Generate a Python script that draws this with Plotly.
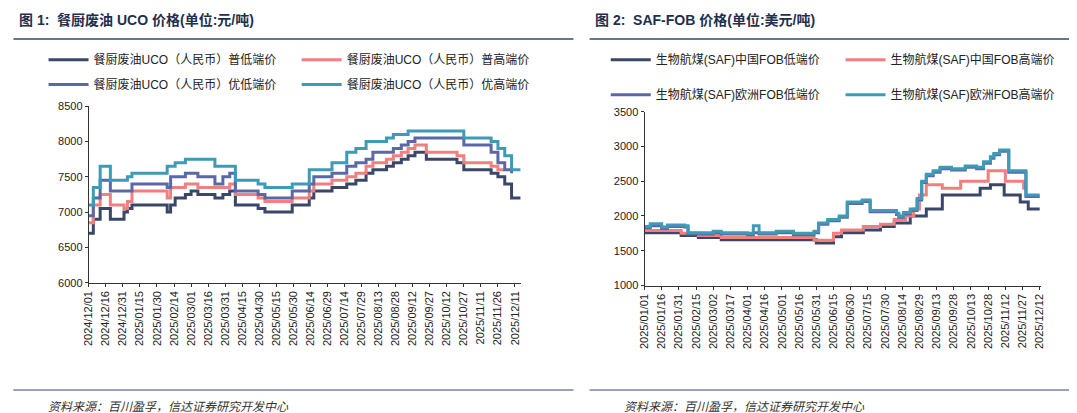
import pandas as pd
import plotly.graph_objects as go

# chart 1: UCO, change points (days since 2024-12-01)
uco_days = [0, 4, 10, 17, 19, 31, 34, 38, 69, 72, 76, 85, 90, 96, 111, 118, 124, 129, 149, 155,
            179, 194, 198, 214, 227, 235, 244, 250, 262, 268, 275, 281, 287, 297, 324, 330, 354,
            360, 366, 372, 380]
uco_low = [6700, 6900, 7050, 7050, 6900, 7000, 7050, 7100, 7000, 7100, 7200, 7250, 7300, 7250, 7200,
           7250, 7300, 7100, 7050, 7000, 7100, 7200, 7300, 7350, 7400, 7450, 7550, 7600, 7650, 7700,
           7750, 7800, 7850, 7750, 7700, 7600, 7550, 7500, 7400, 7200, 7200]
uco_high = [6850, 7100, 7250, 7250, 7100, 7050, 7150, 7300, 7200, 7350, 7350, 7400, 7400, 7350, 7350,
            7350, 7400, 7250, 7200, 7150, 7200, 7300, 7400, 7450, 7500, 7550, 7650, 7700, 7750, 7800,
            7850, 7900, 7950, 7850, 7800, 7700, 7650, 7600, 7600, None, None]
uco_pre_low = [6950, 7200, 7450, 7450, 7300, 7300, 7300, 7400, 7350, 7500, 7500, 7550, 7550, 7500, 7400,
               7500, 7550, 7300, 7250, 7200, 7300, 7400, 7500, 7550, 7650, 7700, 7750, 7850, 7850, 7900,
               7950, 8000, 8050, 8050, 8050, 7950, 7850, 7700, 7600, 7550, None]
uco_pre_high = [7100, 7350, 7650, 7650, 7450, 7450, 7500, 7550, 7650, 7650, 7700, 7750, 7750, 7750, 7650,
                7650, 7650, 7450, 7400, 7350, 7400, 7600, 7600, 7700, 7850, 7900, 8000, 8000, 8050, 8100,
                8100, 8150, 8150, 8150, 8150, 8050, 8000, 7900, 7800, 7600, 7600]

# chart 2: SAF FOB (days since 2025-01-01)
cn_low_days = [0, 32, 47, 67, 150, 165, 172, 191, 206, 218, 232, 246, 260, 293, 302, 314, 328, 335, 345]
cn_low = [1760, 1720, 1690, 1660, 1610, 1700, 1760, 1800, 1850, 1900, 2000, 2100, 2300, 2400, 2450,
          2300, 2200, 2100, 2100]
cn_high_days = [0, 32, 47, 67, 148, 165, 172, 191, 206, 218, 228, 235, 240, 246, 260, 276, 300, 315, 331, 334]
cn_high = [1790, 1750, 1720, 1690, 1650, 1750, 1800, 1850, 1880, 1950, 2000, 2100, 2300, 2450, 2400,
           2500, 2650, 2500, 2400, 2400]
eu_days = [0, 5, 15, 20, 35, 38, 60, 67, 90, 95, 100, 115, 130, 148, 152, 160, 170, 177, 190, 197,
           220, 222, 226, 232, 238, 242, 246, 252, 258, 268, 280, 290, 296, 302, 305, 310, 318, 330,
           333, 345]
eu_high = [1850, 1890, 1840, 1870, 1860, 1760, 1780, 1760, 1750, 1860, 1760, 1780, 1750, 1780, 1900,
           1950, 2000, 2200, 2230, 2080, 2040, 2000, 2050, 2100, 2250, 2500, 2600, 2650, 2700, 2680,
           2720, 2700, 2780, 2850, 2900, 2950, 2650, 2650, 2300, 2300]
eu_low = [1830, 1860, 1820, 1850, 1840, 1740, 1760, 1740, 1730, 1760, 1740, 1760, 1730, 1760, 1880,
          1930, 1980, 2180, 2210, 2060, 2020, 1980, 2030, 2080, 2230, 2480, 2580, 2630, 2680, 2660,
          2700, 2680, 2760, 2830, 2880, 2930, 2630, 2630, 2280, 2280]

NAVY, PINK, PURPLE, TEAL = "#3b4768", "#f27f7f", "#5b68a6", "#3d9bb8"
FONT = "Liberation Sans, Noto Sans CJK SC"


def to_dates(start, days):
    return pd.Timestamp(start) + pd.to_timedelta(days, unit="D")


fig = go.Figure()
# each entry gets its own legend box so the 2x2 layout is exact
legend_pos = {}
d1 = to_dates("2024-12-01", uco_days)
series1 = [("餐厨废油UCO（人民币）普低端价", uco_low, NAVY),
           ("餐厨废油UCO（人民币）普高端价", uco_high, PINK),
           ("餐厨废油UCO（人民币）优低端价", uco_pre_low, PURPLE),
           ("餐厨废油UCO（人民币）优高端价", uco_pre_high, TEAL)]
for i, (name, vals, col) in enumerate(series1):
    lg = "legend" if i == 0 else f"legend{i + 1}"
    legend_pos[lg] = (0.033 + 0.235 * (i % 2), 0.875 - 0.06 * (i // 2))
    fig.add_trace(go.Scatter(x=d1, y=vals, name=name, mode="lines", line_shape="hv",
                             line=dict(color=col, width=3), legend=lg))

series2 = [("生物航煤(SAF)中国FOB低端价", cn_low_days, cn_low, NAVY),
           ("生物航煤(SAF)中国FOB高端价", cn_high_days, cn_high, PINK),
           ("生物航煤(SAF)欧洲FOB低端价", eu_days, eu_low, PURPLE),
           ("生物航煤(SAF)欧洲FOB高端价", eu_days, eu_high, TEAL)]
for i, (name, days, vals, col) in enumerate(series2):
    lg = f"legend{i + 5}"
    legend_pos[lg] = (0.555 + 0.218 * (i % 2), 0.875 - 0.085 * (i // 2))
    fig.add_trace(go.Scatter(x=to_dates("2025-01-01", days), y=vals, name=name, mode="lines",
                             line_shape="hv", line=dict(color=col, width=3),
                             xaxis="x2", yaxis="y2", legend=lg))

for lg, (lx, ly) in legend_pos.items():
    fig.update_layout({lg: dict(x=lx, y=ly, xanchor="left", yanchor="middle", font=dict(size=12),
                                itemwidth=40, bgcolor="rgba(0,0,0,0)")})

axis_common = dict(showgrid=False, zeroline=False, showline=True, linecolor="#333", linewidth=1,
                   ticks="outside", ticklen=3, tickcolor="#333", tickfont=dict(size=11, color="#222"),
                   automargin=False)
DAY = 86400000
fig.update_layout(
    width=1077, height=413, margin=dict(l=0, r=0, t=0, b=0),
    paper_bgcolor="white", plot_bgcolor="white", font=dict(family=FONT, color="#222"),
    xaxis=dict(domain=[0.075, 0.476], range=["2024-12-01", "2025-12-16"], tickformat="%Y/%m/%d",
               tick0="2024-12-01", dtick=15 * DAY, tickangle=-90, anchor="y", **axis_common),
    yaxis=dict(domain=[0.335, 0.762], range=[6000, 8500], dtick=500, anchor="x", **axis_common),
    xaxis2=dict(domain=[0.591, 0.959], range=["2025-01-01", "2025-12-13"], tickformat="%Y/%m/%d",
                tick0="2025-01-01", dtick=15 * DAY, tickangle=-90, anchor="y2", **axis_common),
    yaxis2=dict(domain=[0.328, 0.749], range=[1000, 3500], dtick=500, anchor="x2", **axis_common),
    showlegend=True,
)

for x0, x1, title in [(0.005, 0.525, "<b>图 1:  餐厨废油 UCO 价格(单位:元/吨)</b>"),
                      (0.54, 0.995, "<b>图 2:  SAF-FOB 价格(单位:美元/吨)</b>")]:
    fig.add_annotation(x=x0 + 0.003, y=0.995, xref="paper", yref="paper", text=title, showarrow=False,
                       xanchor="left", yanchor="top", font=dict(size=14, color="#1f2f4f"))
    fig.add_shape(type="line", x0=x0, x1=x1, y0=0.925, y1=0.925, xref="paper", yref="paper",
                  line=dict(color="#2f4a7a", width=1.5))
    fig.add_shape(type="line", x0=x0, x1=x1, y0=0.075, y1=0.075, xref="paper", yref="paper",
                  line=dict(color="#2f4a7a", width=1))
    fig.add_annotation(x=x0 + 0.03, y=0.055, xref="paper", yref="paper",
                       text="<i>资料来源：百川盈孚，信达证券研究开发中心</i>", showarrow=False,
                       xanchor="left", yanchor="top", font=dict(size=12, color="#333"))

fig.write_html("out.html")
